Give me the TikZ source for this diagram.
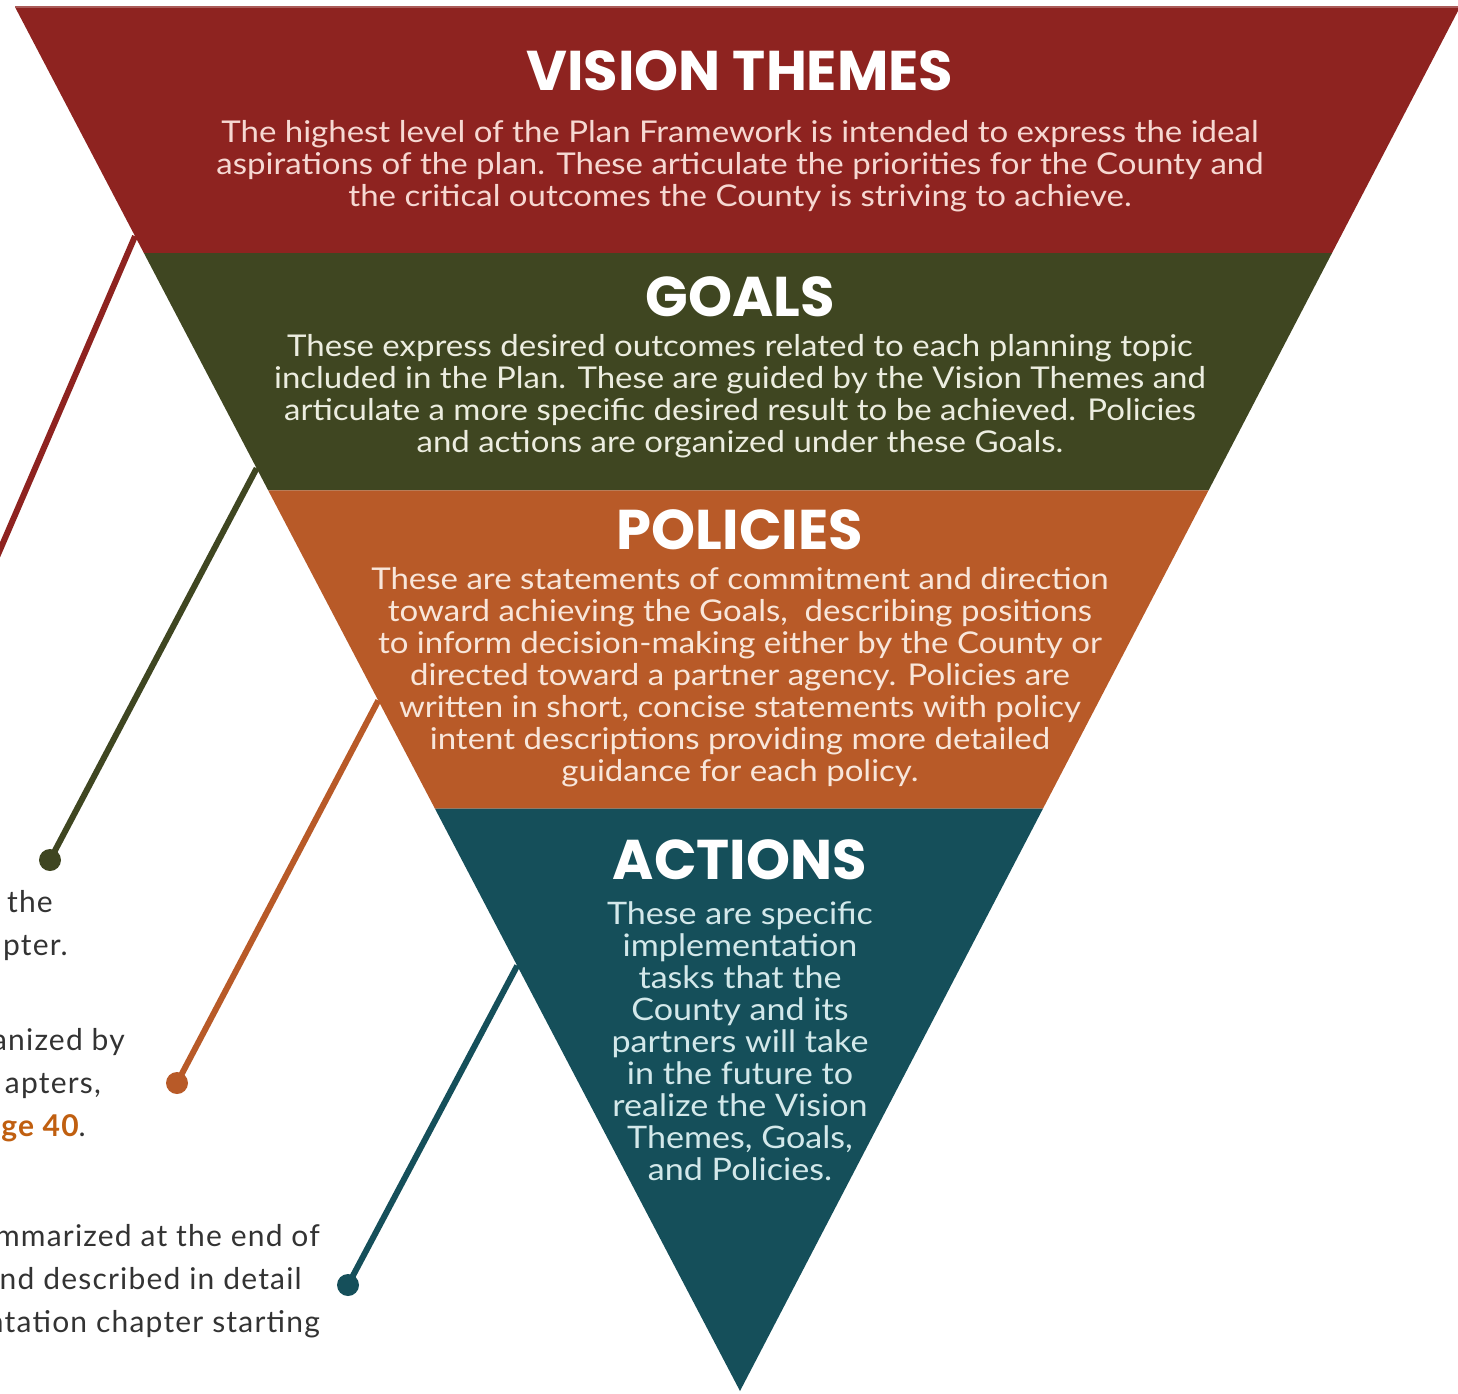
\documentclass[tikz,border=0pt]{standalone}
\usepackage{fontspec}
\setmainfont{Lato}
\newfontfamily\headfont{Poppins}
\usetikzlibrary{positioning,calc}
\definecolor{themered}{HTML}{8E2320}
\definecolor{goalgreen}{HTML}{3F4621}
\definecolor{policyorange}{HTML}{B85A28}
\definecolor{actionteal}{HTML}{154F5A}
\definecolor{redtext}{HTML}{F6D8D2}
\definecolor{greentext}{HTML}{ECEDE0}
\definecolor{orangetext}{HTML}{F8E6DA}
\definecolor{tealtext}{HTML}{D3E8EA}
\definecolor{sidegray}{HTML}{333333}
\definecolor{pagelink}{HTML}{C05F10}
\tikzset{
  headtext/.style={font=\headfont\bfseries\fontsize{56}{60}\selectfont, anchor=base, inner sep=0pt, text=white},
  bodytext/.style={align=center, inner sep=0pt, font=\fontsize{30}{32}\selectfont\addfontfeatures{FakeStretch=1.1}},
  leader/.style={line width=6pt},
  sidetext/.style={anchor=base east, inner sep=0pt, text=sidegray,
    font=\fontsize{30}{43}\selectfont\addfontfeatures{LetterSpace=4}},
}
\begin{document}
\begin{tikzpicture}[x=1pt,y=-1pt]
\useasboundingbox (0,0) rectangle (1458,1393);
\clip (0,0) rectangle (1458,1393);
\coordinate (TL) at (15,7);
\coordinate (TR) at (1460,7);
\coordinate (apex) at (740,1391);
\coordinate (L1) at ($(TL)!0.1779!(apex)$);
\coordinate (R1) at ($(TR)!0.1779!(apex)$);
\coordinate (L2) at ($(TL)!0.3492!(apex)$);
\coordinate (R2) at ($(TR)!0.3492!(apex)$);
\coordinate (L3) at ($(TL)!0.5792!(apex)$);
\coordinate (R3) at ($(TR)!0.5792!(apex)$);
% leaders with end dots
\foreach \col/\t/\ex/\ey [count=\i] in {themered/0.1656/-50/666, goalgreen/0.3333/50/860, policyorange/0.5011/177/1083, actionteal/0.6927/348/1285} {
  \coordinate (s\i) at ($(TL)!\t!(apex)$);
  \coordinate (e\i) at (\ex,\ey);
  \draw[leader,\col] (s\i) -- (e\i);
  \fill[\col] (e\i) circle[radius=11pt];
}
% bands
\fill[themered] (TL) -- (TR) -- (R1) -- (L1) -- cycle;
\fill[goalgreen] (L1) -- (R1) -- (R2) -- (L2) -- cycle;
\fill[policyorange] (L2) -- (R2) -- (R3) -- (L3) -- cycle;
\fill[actionteal] (L3) -- (R3) -- (apex) -- cycle;
\draw[themered!75!white, line width=2pt] (TL) -- (TR);
% band texts
\node[headtext] (vision) at (740,90) {VISION THEMES};
\node[bodytext, text=redtext] (visionbody) at (740,166) {The highest level of the Plan Framework is intended to express the ideal\\aspirations of the plan. These articulate the priorities for the County and\\the critical outcomes the County is striving to achieve.};
\node[headtext] (goals) at (740,316) {GOALS};
\node[bodytext, text=greentext] (goalsbody) at (740,396) {These express desired outcomes related to each planning topic\\included in the Plan. These are guided by the Vision Themes and\\articulate a more specific desired result to be achieved. Policies\\and actions are organized under these Goals.};
\node[headtext] (policies) at (740,549) {POLICIES};
\node[bodytext, text=orangetext] (policiesbody) at (740,677) {These are statements of commitment and direction\\toward achieving the Goals,\ \ describing positions\\to inform decision-making either by the County or\\directed toward a partner agency. Policies are\\written in short, concise statements with policy\\intent descriptions providing more detailed\\guidance for each policy.};
\node[headtext] (actions) at (740,879) {ACTIONS};
\node[bodytext, text=tealtext, font=\fontsize{31}{32}\selectfont\addfontfeatures{FakeStretch=1.1}] (actionsbody) at (740,1041) {These are specific\\implementation\\tasks that the\\County and its\\partners will take\\in the future to\\realize the Vision\\Themes, Goals,\\and Policies.};
% side text fragments
\node[sidetext] (side1) at (53,912) {the};
\node[sidetext] (side2) at (68,955) {apter.};
\node[sidetext] (side3) at (125,1050) {anized by};
\node[sidetext] (side4) at (101,1093) {apters,};
\node[sidetext] (side5) at (86,1136) {{\bfseries\color{pagelink}ge 40}.};
\node[sidetext] (side6) at (320,1246) {mmarized at the end of};
\node[sidetext] (side7) at (302,1289) {nd described in detail};
\node[sidetext] (side8) at (320,1332) {ntation chapter starting};
\end{tikzpicture}
\end{document}
